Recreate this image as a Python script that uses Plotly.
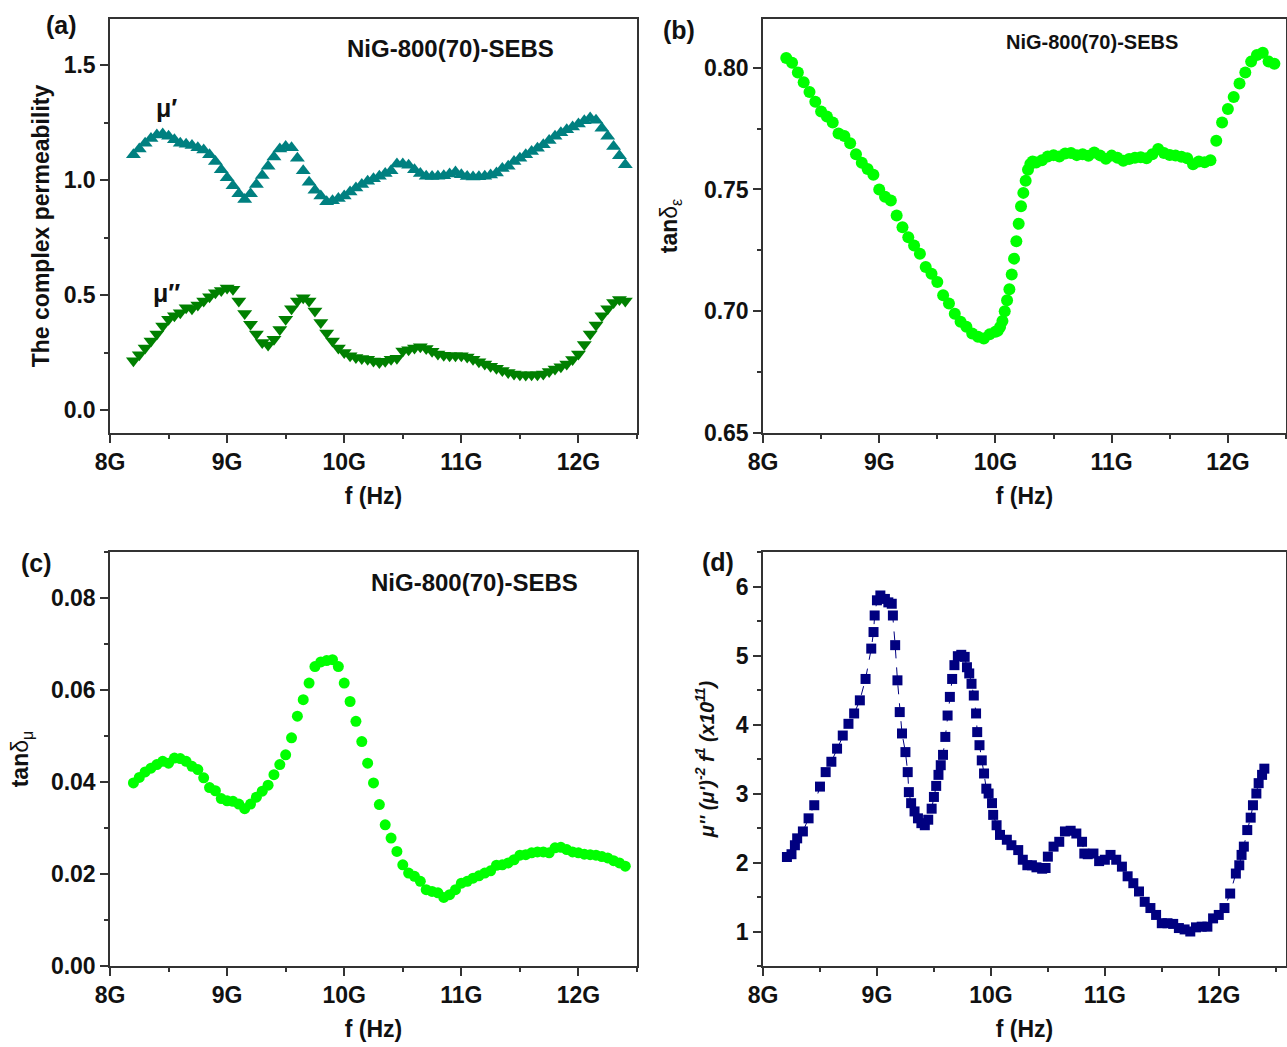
import plotly.graph_objects as go

# ---------------- data ----------------
# frequency grid (GHz) for panels (a) and (c)
F_AC = [8.20, 8.25, 8.30, 8.35, 8.40, 8.45, 8.50, 8.55, 8.60, 8.65,
        8.70, 8.75, 8.80, 8.85, 8.90, 8.95, 9.00, 9.05, 9.10, 9.15,
        9.20, 9.25, 9.30, 9.35, 9.40, 9.45, 9.50, 9.55, 9.60, 9.65,
        9.70, 9.75, 9.80, 9.85, 9.90, 9.95, 10.00, 10.05, 10.10, 10.15,
        10.20, 10.25, 10.30, 10.35, 10.40, 10.45, 10.50, 10.55, 10.60, 10.65,
        10.70, 10.75, 10.80, 10.85, 10.90, 10.95, 11.00, 11.05, 11.10, 11.15,
        11.20, 11.25, 11.30, 11.35, 11.40, 11.45, 11.50, 11.55, 11.60, 11.65,
        11.70, 11.75, 11.80, 11.85, 11.90, 11.95, 12.00, 12.05, 12.10, 12.15,
        12.20, 12.25, 12.30, 12.35, 12.40]

MU_REAL = [1.110, 1.135, 1.160, 1.180, 1.196, 1.200, 1.190, 1.175, 1.160, 1.155,
           1.150, 1.140, 1.130, 1.110, 1.080, 1.045, 1.010, 0.975, 0.940, 0.915,
           0.940, 0.980, 1.020, 1.060, 1.100, 1.135, 1.146, 1.140, 1.095, 1.040,
           0.990, 0.955, 0.930, 0.905, 0.910, 0.920, 0.930, 0.948, 0.965, 0.980,
           0.995, 1.005, 1.016, 1.028, 1.040, 1.070, 1.070, 1.064, 1.045, 1.028,
           1.016, 1.015, 1.016, 1.018, 1.026, 1.035, 1.023, 1.015, 1.013, 1.014,
           1.016, 1.022, 1.030, 1.050, 1.060, 1.080, 1.095, 1.110, 1.124, 1.138,
           1.153, 1.172, 1.190, 1.205, 1.218, 1.230, 1.243, 1.258, 1.270, 1.260,
           1.225, 1.190, 1.146, 1.105, 1.066]

MU_IMAG = [0.214, 0.240, 0.270, 0.300, 0.330, 0.365, 0.395, 0.410, 0.423, 0.445,
           0.440, 0.457, 0.474, 0.492, 0.510, 0.520, 0.530, 0.525, 0.474, 0.420,
           0.373, 0.330, 0.293, 0.283, 0.308, 0.350, 0.395, 0.440, 0.474, 0.488,
           0.474, 0.430, 0.380, 0.335, 0.300, 0.270, 0.250, 0.236, 0.228, 0.224,
           0.221, 0.213, 0.207, 0.212, 0.221, 0.225, 0.257, 0.262, 0.270, 0.275,
           0.267, 0.255, 0.243, 0.238, 0.236, 0.236, 0.236, 0.230, 0.221, 0.210,
           0.200, 0.190, 0.182, 0.172, 0.163, 0.157, 0.153, 0.152, 0.153, 0.153,
           0.156, 0.167, 0.178, 0.188, 0.200, 0.220, 0.243, 0.285, 0.330, 0.370,
           0.410, 0.440, 0.467, 0.480, 0.474]

TAN_MU = [0.0398, 0.0410, 0.0422, 0.0430, 0.0438, 0.0445, 0.0441, 0.0452, 0.0451, 0.0445,
          0.0434, 0.0427, 0.0409, 0.0388, 0.0381, 0.0364, 0.0359, 0.0358, 0.0352, 0.0342,
          0.0352, 0.0367, 0.0380, 0.0393, 0.0416, 0.0438, 0.0459, 0.0496, 0.0543, 0.0579,
          0.0615, 0.0651, 0.0661, 0.0664, 0.0666, 0.0651, 0.0615, 0.0575, 0.0532, 0.0488,
          0.0441, 0.0398, 0.0351, 0.0307, 0.0278, 0.0249, 0.0220, 0.0202, 0.0195, 0.0184,
          0.0166, 0.0162, 0.0159, 0.0149, 0.0155, 0.0166, 0.0180, 0.0184, 0.0191, 0.0196,
          0.0202, 0.0207, 0.0219, 0.0220, 0.0224, 0.0231, 0.0241, 0.0242, 0.0246, 0.0248,
          0.0248, 0.0246, 0.0257, 0.0258, 0.0253, 0.0248, 0.0246, 0.0243, 0.0242, 0.0241,
          0.0238, 0.0235, 0.0229, 0.0224, 0.0217]

# panel (b): tan delta_epsilon
F_B = [8.20, 8.25, 8.30, 8.35, 8.40, 8.45, 8.50, 8.55, 8.60, 8.65,
       8.70, 8.75, 8.80, 8.85, 8.90, 8.95, 9.00, 9.05, 9.10, 9.15,
       9.20, 9.25, 9.30, 9.35, 9.40, 9.45, 9.50, 9.55, 9.60, 9.65,
       9.70, 9.75, 9.80, 9.85, 9.90, 9.95, 10.00,
       10.02, 10.04, 10.06, 10.08, 10.10, 10.12, 10.14, 10.16, 10.18, 10.20,
       10.22, 10.24, 10.26, 10.28, 10.30, 10.32,
       10.35, 10.40, 10.45, 10.50, 10.55, 10.60, 10.65, 10.70, 10.75, 10.80,
       10.85, 10.90, 10.95, 11.00, 11.05, 11.10, 11.15, 11.20, 11.25, 11.30,
       11.35, 11.40, 11.45, 11.50, 11.55, 11.60, 11.65, 11.70, 11.75, 11.80,
       11.85, 11.90, 11.95, 12.00, 12.05, 12.10, 12.15, 12.20, 12.25, 12.30,
       12.35, 12.40]

TAN_E = [0.804, 0.802, 0.798, 0.794, 0.790, 0.786, 0.782, 0.780, 0.7775, 0.773,
         0.772, 0.769, 0.7645, 0.761, 0.7584, 0.756, 0.750, 0.747, 0.7455, 0.7393,
         0.7345, 0.7304, 0.727, 0.7236, 0.7182, 0.7154, 0.712, 0.7066, 0.7032, 0.699,
         0.6957, 0.6936, 0.6909, 0.6895, 0.6888, 0.6905, 0.6916,
         0.692, 0.6935, 0.696, 0.700, 0.7045, 0.709, 0.7151, 0.7216, 0.7287, 0.7359,
         0.7431, 0.7486, 0.7536, 0.7581, 0.7605, 0.7615,
         0.7611, 0.7620, 0.7635, 0.7641, 0.7635, 0.7648, 0.7650, 0.7641, 0.7645, 0.7638,
         0.7652, 0.7640, 0.7626, 0.7639, 0.7630, 0.7618, 0.7625, 0.7630, 0.7632, 0.7628,
         0.7645, 0.7666, 0.7650, 0.7642, 0.7639, 0.7634, 0.7628, 0.7604, 0.7615, 0.7612,
         0.7620, 0.770, 0.7775, 0.783, 0.788, 0.7935, 0.798, 0.8025, 0.8052, 0.8061,
         0.8025, 0.8016]

# panel (d): mu'' (mu')^-2 f^-1  (x 1e11)
F_D = [8.21, 8.25, 8.28, 8.30, 8.35, 8.40, 8.45, 8.50, 8.55, 8.60,
       8.65, 8.70, 8.75, 8.80, 8.85, 8.90, 8.95, 8.97, 8.98, 9.00,
       9.03, 9.07, 9.10, 9.13, 9.14, 9.16, 9.18, 9.20, 9.22, 9.25,
       9.27, 9.28, 9.30, 9.33, 9.36, 9.39, 9.42, 9.45, 9.48, 9.50,
       9.52, 9.54, 9.56, 9.58, 9.60, 9.62, 9.64, 9.66, 9.68, 9.71,
       9.74, 9.77, 9.79, 9.81, 9.83, 9.85, 9.87, 9.88, 9.90, 9.92,
       9.94, 9.96, 9.98, 10.01, 10.02, 10.05, 10.08, 10.14, 10.18, 10.24,
       10.28, 10.32, 10.36, 10.40, 10.45, 10.48, 10.50, 10.55, 10.60, 10.65,
       10.70, 10.75, 10.80, 10.82, 10.85, 10.90, 10.95, 11.00, 11.05, 11.10,
       11.15, 11.20, 11.25, 11.30, 11.35, 11.40, 11.45, 11.50, 11.55, 11.60,
       11.65, 11.70, 11.75, 11.80, 11.85, 11.90, 11.95, 12.00, 12.05, 12.10,
       12.15, 12.18, 12.20, 12.22, 12.25, 12.28, 12.30, 12.33, 12.35, 12.38,
       12.40]

C0 = [2.08, 2.12, 2.25, 2.35, 2.45, 2.64, 2.83, 3.10, 3.31, 3.46,
      3.65, 3.84, 4.01, 4.16, 4.35, 4.66, 5.10, 5.34, 5.58, 5.80,
      5.87, 5.82, 5.77, 5.75, 5.58, 5.15, 4.64, 4.18, 3.87, 3.60,
      3.31, 3.02, 2.86, 2.74, 2.64, 2.57, 2.54, 2.62, 2.78, 2.95,
      3.11, 3.27, 3.41, 3.56, 3.82, 4.13, 4.40, 4.66, 4.86, 4.99,
      5.01, 4.98, 4.83, 4.74, 4.59, 4.42, 4.16, 3.89, 3.70, 3.48,
      3.29, 3.07, 3.00, 2.86, 2.69, 2.54, 2.40, 2.33, 2.25, 2.18,
      2.04, 1.96, 1.96, 1.93, 1.91, 1.92, 2.085, 2.23, 2.30, 2.45,
      2.46, 2.42, 2.30, 2.13, 2.12, 2.13, 2.02, 2.04, 2.11, 2.04,
      1.94, 1.80, 1.70, 1.58, 1.43, 1.34, 1.24, 1.12, 1.12, 1.11,
      1.05, 1.03, 1.00, 1.06, 1.07, 1.07, 1.19, 1.24, 1.34, 1.55,
      1.84, 1.96, 2.11, 2.23, 2.47, 2.65, 2.83, 3.00, 3.15, 3.27,
      3.36]

SAMPLE = "NiG-800(70)-SEBS"

# ---------------- figure ----------------
W, H = 1287, 1047
FONT = "Liberation Sans, Arial, Helvetica, sans-serif"
AX = "#333333"
TXT = "#111111"
TICK_SIZE = 23


def px(x):
    return x / W


def py(y):
    return 1 - y / H


def hz(lst):
    return [v * 1e9 for v in lst]


fig = go.Figure()
fig.add_trace(go.Scatter(x=hz(F_AC), y=MU_REAL, mode="markers", name="μ′",
                         marker=dict(symbol="triangle-up", size=13, color="#008080"),
                         xaxis="x", yaxis="y"))
fig.add_trace(go.Scatter(x=hz(F_AC), y=MU_IMAG, mode="markers", name="μ″",
                         marker=dict(symbol="triangle-down", size=13, color="#008000"),
                         xaxis="x", yaxis="y"))
fig.add_trace(go.Scatter(x=hz(F_B), y=TAN_E, mode="markers", name="tanδε",
                         marker=dict(symbol="circle", size=12, color="#00FF00"),
                         xaxis="x2", yaxis="y2"))
fig.add_trace(go.Scatter(x=hz(F_AC), y=TAN_MU, mode="markers", name="tanδμ",
                         marker=dict(symbol="circle", size=11, color="#00FF00"),
                         xaxis="x3", yaxis="y3"))
fig.add_trace(go.Scatter(x=hz(F_D), y=C0, mode="lines+markers", name="C0",
                         line=dict(color="#000080", width=1, dash="dash"),
                         marker=dict(symbol="square", size=10, color="#000080"),
                         xaxis="x4", yaxis="y4"))


def xax(domain, anchor, rng, title_std=14):
    return dict(domain=domain, anchor=anchor, range=[rng[0] * 1e9, rng[1] * 1e9],
                tick0=8e9, dtick=1e9, tickformat="~s",
                showline=True, linecolor=AX, linewidth=1.5, mirror=True,
                ticks="outside", ticklen=8, tickwidth=1.5, tickcolor=AX,
                minor=dict(ticks="outside", ticklen=4, tickwidth=1.5, tickcolor=AX,
                           tick0=8e9, dtick=0.5e9),
                tickfont=dict(family=FONT, size=TICK_SIZE, color=TXT, weight="bold"),
                title=dict(text="f (Hz)", standoff=title_std,
                           font=dict(family=FONT, size=23, color=TXT, weight="bold")),
                showgrid=False, zeroline=False, automargin=False)


def yax(domain, anchor, rng, dtick, mdtick, fmt, title, std, tfont=None):
    return dict(domain=domain, anchor=anchor, range=rng, dtick=dtick, tick0=0,
                tickformat=fmt,
                showline=True, linecolor=AX, linewidth=1.5, mirror=True,
                ticks="outside", ticklen=8, tickwidth=1.5, tickcolor=AX,
                minor=dict(ticks="outside", ticklen=4, tickwidth=1.5, tickcolor=AX,
                           tick0=0, dtick=mdtick),
                tickfont=dict(family=FONT, size=TICK_SIZE, color=TXT, weight="bold"),
                title=dict(text=title, standoff=std,
                           font=tfont or dict(family=FONT, size=23, color=TXT, weight="bold")),
                showgrid=False, zeroline=False, automargin=False)


XL = [px(110), px(637)]
XR = [px(763), px(1286)]
YT = [py(433), py(19)]
YB = [py(966), py(552)]

fig.update_layout(
    width=W, height=H, margin=dict(l=0, r=0, t=0, b=0),
    paper_bgcolor="white", plot_bgcolor="white", showlegend=False,
    font=dict(family=FONT, color=TXT),
    xaxis=xax(XL, "y", [8, 12.5]),
    yaxis=yax(YT, "x", [-0.1, 1.7], 0.5, 0.25, ".1f", "The complex permeability", 8),
    xaxis2=xax(XR, "y2", [8, 12.5]),
    yaxis2=yax(YT, "x2", [0.65, 0.82], 0.05, 0.025, ".2f",
               "<b>tan</b>δ<sub>ε</sub>", 20,
               tfont=dict(family=FONT, size=23, color=TXT)),
    xaxis3=xax(XL, "y3", [8, 12.5]),
    yaxis3=yax(YB, "x3", [0, 0.09], 0.02, 0.01, ".2f",
               "<b>tan</b>δ<sub>μ</sub>", 16,
               tfont=dict(family=FONT, size=23, color=TXT)),
    xaxis4=xax(XR, "y4", [8, 12.59]),
    yaxis4=yax(YB, "x4", [0.5, 6.5], 1, 0.5, "d",
               "<i>μ'' (μ')<sup>-2</sup> f<sup>1</sup> (x10<sup>11</sup>)</i>", 16,
               tfont=dict(family=FONT, size=20, color=TXT, weight="bold")),
)

ann = []


def label(x, y, text, size, bold=True):
    ann.append(dict(x=px(x), y=py(y), xref="paper", yref="paper", text=text,
                    showarrow=False, xanchor="center", yanchor="middle",
                    font=dict(family=FONT, size=size, color=TXT,
                              weight="bold" if bold else "normal")))


label(61, 25, "(a)", 25)
label(679, 30, "(b)", 25)
label(36, 563, "(c)", 25)
label(718, 562, "(d)", 25)
label(451, 48, SAMPLE, 24)
label(1092, 42, SAMPLE, 20)
label(474, 582, SAMPLE, 24)
label(166, 108, "μ′", 25)
label(166, 293, "μ″", 25)
fig.update_layout(annotations=ann)

fig.write_html("out.html")
